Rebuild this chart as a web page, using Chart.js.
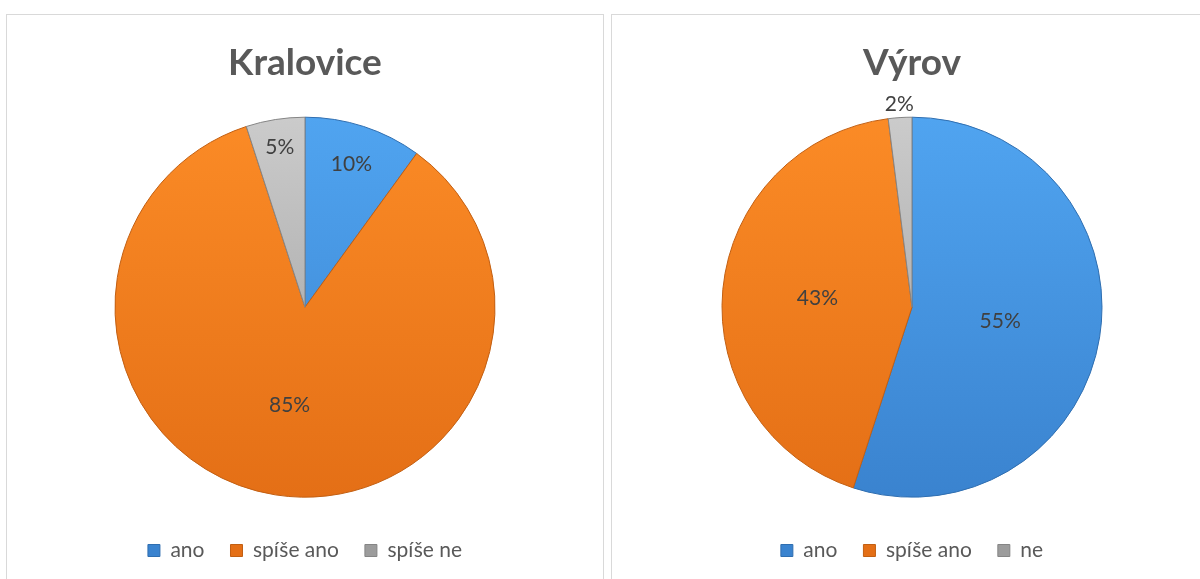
<!DOCTYPE html>
<html>
<head>
<meta charset="utf-8">
<script src="https://cdn.jsdelivr.net/npm/chart.js@4"></script>
<style>
  html, body { margin: 0; padding: 0; background: #fff; overflow: hidden; }
  .panel { position: absolute; top: 14px; height: 600px; border: 1px solid #d9d9d9; background: #fff; }
  #p1 { left: 6px; width: 596px; }
  #p2 { left: 611px; width: 600px; }
  canvas { display: block; }
</style>
</head>
<body>
<div class="panel" id="p1"><canvas id="c1" width="596" height="564"></canvas></div>
<div class="panel" id="p2"><canvas id="c2" width="600" height="564"></canvas></div>
<script>
// data
const kralLabels = ['ano', 'spíše ano', 'spíše ne'];
const kralValues = [10, 85, 5];
const vyrovLabels = ['ano', 'spíše ano', 'ne'];
const vyrovValues = [55, 43, 2];

// distance of the % label from the centre, as share of radius
const kralLabelPos = [0.79, 0.52, 0.85];
const vyrovLabelPos = [0.47, 0.50, 1.07];

// top / bottom / edge colours for each slice
const sliceTop = ['#50a4f0', '#fb8b26', '#cbcbcb'];
const sliceBottom = ['#3a83cf', '#e46f16', '#9c9c9c'];
const sliceEdge = ['#2f6eb0', '#c25f12', '#858585'];

const RADIUS = 190;

function sliceFill(c) {
  const chart = c.chart;
  const area = chart.chartArea;
  const i = c.dataIndex;
  if (!area) return sliceTop[i];
  const cy = (area.top + area.bottom) / 2;
  const g = chart.ctx.createLinearGradient(0, cy - RADIUS, 0, cy + RADIUS);
  g.addColorStop(0, sliceTop[i]);
  g.addColorStop(1, sliceBottom[i]);
  return g;
}

// draws the percentage labels on the slices
const pctLabels = {
  id: 'pctLabels',
  afterDatasetsDraw(chart, args, opts) {
    const ctx = chart.ctx;
    const meta = chart.getDatasetMeta(0);
    const data = chart.data.datasets[0].data;
    const total = data.reduce((a, b) => a + b, 0);
    ctx.save();
    ctx.font = '21px Lato';
    ctx.fillStyle = '#404040';
    ctx.textAlign = 'center';
    ctx.textBaseline = 'middle';
    meta.data.forEach((arc, i) => {
      const p = arc.getProps(['x', 'y', 'startAngle', 'endAngle', 'outerRadius'], true);
      const mid = (p.startAngle + p.endAngle) / 2;
      const r = p.outerRadius * opts.pos[i];
      ctx.fillText(Math.round(data[i] / total * 100) + '%', p.x + Math.cos(mid) * r, p.y + Math.sin(mid) * r);
    });
    ctx.restore();
  }
};

function makePie(id, title, labels, values, labelPos) {
  const ctx = document.getElementById(id).getContext('2d');
  return new Chart(ctx, {
    type: 'pie',
    data: {
      labels: labels,
      datasets: [{
        data: values,
        backgroundColor: sliceFill,
        borderColor: sliceEdge,
        borderWidth: 1,
        radius: RADIUS
      }]
    },
    options: {
      responsive: false,
      animation: false,
      layout: { padding: { bottom: 8 } },
      plugins: {
        title: {
          display: true,
          text: title,
          color: '#595959',
          font: { family: 'Lato', size: 37, weight: 'bold' },
          padding: { top: 26, bottom: 15 }
        },
        legend: {
          position: 'bottom',
          labels: {
            boxWidth: 12,
            boxHeight: 12,
            padding: 26,
            color: '#595959',
            font: { family: 'Lato', size: 21 },
            generateLabels: (chart) => chart.data.labels.map((l, i) => ({
              text: l,
              fillStyle: sliceBottom[i],
              strokeStyle: sliceEdge[i],
              lineWidth: 1,
              fontColor: '#595959',
              index: i
            }))
          }
        },
        tooltip: { enabled: false },
        pctLabels: { pos: labelPos }
      }
    },
    plugins: [pctLabels]
  });
}

document.addEventListener('DOMContentLoaded', () => {
  makePie('c1', 'Kralovice', kralLabels, kralValues, kralLabelPos);
  makePie('c2', 'Výrov', vyrovLabels, vyrovValues, vyrovLabelPos);
});
</script>
</body>
</html>
